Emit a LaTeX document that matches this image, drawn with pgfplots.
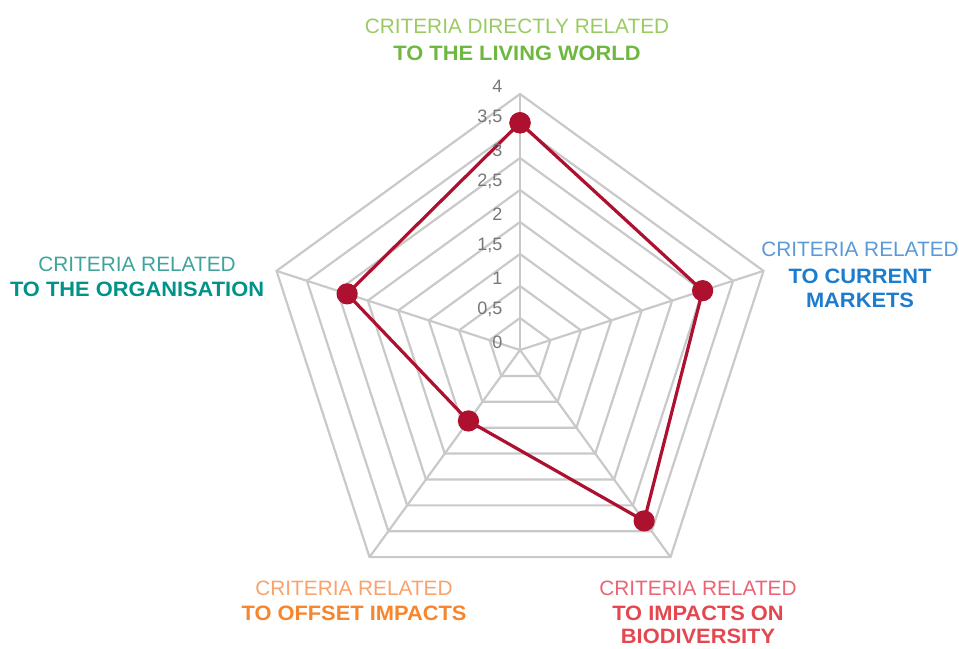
\documentclass[border=0pt]{standalone}
\usepackage{pgfplots}
\pgfplotsset{compat=1.18}
\usepackage{fontspec}
\setmainfont{Liberation Sans}
\newfontfamily\widebold[FakeStretch=1.05]{Liberation Sans Bold}
\definecolor{web}{HTML}{C9C9C9}
\definecolor{datared}{HTML}{AE1030}
\definecolor{tick}{HTML}{777777}
\definecolor{grA}{HTML}{9ACB62}
\definecolor{grB}{HTML}{6FB83F}
\definecolor{blA}{HTML}{5A9AD8}
\definecolor{blB}{HTML}{1C7DCF}
\definecolor{tlA}{HTML}{3FA49B}
\definecolor{tlB}{HTML}{00938A}
\definecolor{orA}{HTML}{F8A26C}
\definecolor{orB}{HTML}{F6852C}
\definecolor{rdA}{HTML}{EA6475}
\definecolor{rdB}{HTML}{E4474F}
\tikzset{
  ticklab/.style={anchor=south east, inner sep=0pt, text=tick, font=\fontsize{9}{10}\selectfont},
  lab1/.style={anchor=base, inner sep=0pt, font=\fontsize{10.4}{12}\selectfont},
  lab2/.style={anchor=base, inner sep=0pt, font=\fontsize{10.4}{12}\widebold},
}
\begin{document}
\begin{tikzpicture}
\begin{axis}[
  x=32pt, y=32pt,
  xmin=-8.125, xmax=6.859, ymin=-4.656, ymax=5.469,
  hide axis, scale only axis, clip=false,
]
\path (rel axis cs:0,0) rectangle (rel axis cs:1,1);
% web rings
\pgfplotsinvokeforeach{0.5,1,1.5,2,2.5,3,3.5,4}{
  \addplot[web, line width=1.1pt, line join=miter, data cs=polar] coordinates {(90,#1) (18,#1) (-54,#1) (-126,#1) (162,#1) (90,#1) (18,#1)};
}
% spokes
\pgfplotsinvokeforeach{90,18,-54,-126,162}{
  \addplot[web, line width=1.1pt, data cs=polar] coordinates {(#1,0) (#1,4)};
}
% data
\addplot[datared, line width=1.6pt, line join=round, mark=*, mark size=4.5pt, mark options={solid, fill=datared, draw=datared}, data cs=polar]
  coordinates {(90,3.55) (18,3.0) (-54,3.3) (-126,1.37) (162,2.84) (90,3.55)};
% radial tick labels
\node[ticklab] at (axis cs:-0.27,0.02) {0};
\node[ticklab] at (axis cs:-0.27,0.52) {0,5};
\node[ticklab] at (axis cs:-0.27,1.02) {1};
\node[ticklab] at (axis cs:-0.27,1.52) {1,5};
\node[ticklab] at (axis cs:-0.27,2.02) {2};
\node[ticklab] at (axis cs:-0.27,2.52) {2,5};
\node[ticklab] at (axis cs:-0.27,3.02) {3};
\node[ticklab] at (axis cs:-0.27,3.52) {3,5};
\node[ticklab] at (axis cs:-0.27,4.02) {4};
% category labels
\node[lab1, text=grA] at (axis cs:-0.047,4.953) {CRITERIA DIRECTLY RELATED};
\node[lab2, text=grB] at (axis cs:-0.047,4.531) {TO THE LIVING WORLD};
\node[lab1, text=blA] at (axis cs:5.3125,1.469) {CRITERIA RELATED};
\node[lab2, text=blB] at (axis cs:5.3125,1.047) {TO CURRENT};
\node[lab2, text=blB] at (axis cs:5.3125,0.672) {MARKETS};
\node[lab1, text=tlA] at (axis cs:-5.984,1.234) {CRITERIA RELATED};
\node[lab2, text=tlB] at (axis cs:-5.984,0.844) {TO THE ORGANISATION};
\node[lab1, text=orA] at (axis cs:-2.594,-3.828) {CRITERIA RELATED};
\node[lab2, text=orB] at (axis cs:-2.594,-4.219) {TO OFFSET IMPACTS};
\node[lab1, text=rdA] at (axis cs:2.781,-3.828) {CRITERIA RELATED};
\node[lab2, text=rdB] at (axis cs:2.781,-4.219) {TO IMPACTS ON};
\node[lab2, text=rdB] at (axis cs:2.781,-4.578) {BIODIVERSITY};
\end{axis}
\end{tikzpicture}
\end{document}
